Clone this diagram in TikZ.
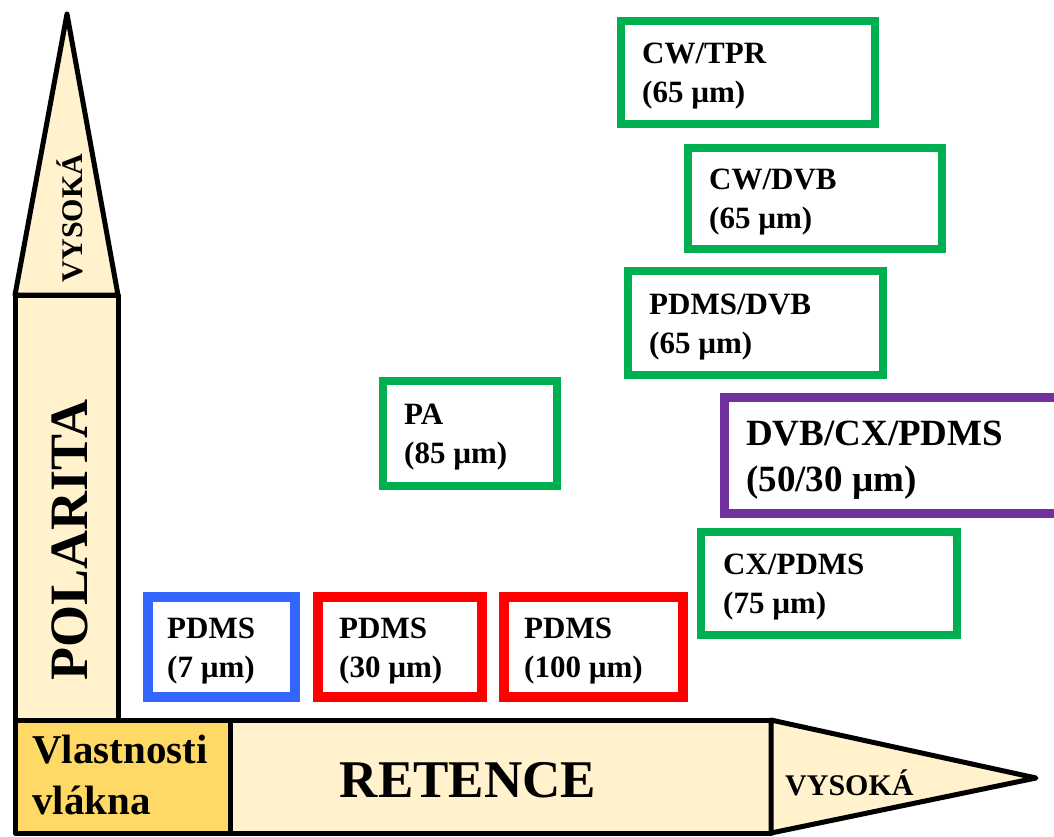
\documentclass[tikz,border=0pt]{standalone}
\usepackage{fontspec}
\setmainfont{Liberation Serif}
\definecolor{lightfill}{HTML}{FFF2CC}
\definecolor{goldfill}{HTML}{FFD966}
\definecolor{fgreen}{HTML}{00B050}
\definecolor{fred}{HTML}{FF0000}
\definecolor{fblue}{HTML}{3366FF}
\definecolor{fpurple}{HTML}{7030A0}
\begin{document}
\begin{tikzpicture}[x=1pt,y=-1pt,
  axis/.style={draw=black, line width=5pt, line join=round, fill=lightfill},
  frame/.style={draw, line width=8pt, fill=white, inner sep=0pt, outer sep=0pt},
  ftext/.style={anchor=west, inner sep=0pt, align=left,
    font=\bfseries\fontsize{31}{39}\selectfont},
  lbl/.style={inner sep=0pt, font=\bfseries},
  ]
\useasboundingbox (0,0) rectangle (1054,836);
\clip (0,0) rectangle (1054,836);
% vertical axis
\draw[axis] (15,295) rectangle (118,720);
\draw[axis] (15,295) -- (67,14) -- (118,295) -- cycle;
% horizontal axis
\draw[axis] (230,720) rectangle (771,833);
\draw[axis] (771,720) -- (1036,778) -- (771,833) -- cycle;
\draw[axis, fill=goldfill] (15,720) rectangle (230,833);
% axis labels
\node[lbl, rotate=90, anchor=base, font=\bfseries\fontsize{30}{36}\selectfont] (vys1) at (82,218) {VYSOKÁ};
\node[lbl, rotate=90, anchor=base, font=\bfseries\fontsize{54}{60}\selectfont] (pol) at (87,540) {POLARITA};
\node[lbl, anchor=base, font=\bfseries\fontsize{53}{60}\selectfont] (ret) at (468,797) {RETENCE};
\node[lbl, anchor=base west, font=\bfseries\fontsize{30}{36}\selectfont] (vys2) at (785,795) {VYSOKÁ};
\node[lbl, anchor=west, align=left, font=\bfseries\fontsize{41}{51}\selectfont] (vlast) at (32,775) {Vlastnosti\\vlákna};
% fibre boxes
\node[frame, draw=fgreen, minimum width=254pt, minimum height=103pt] (cwtpr) at (748,72.5) {};
\node[ftext] (cwtprT) at ([xshift=21pt,yshift=-4pt]cwtpr.west) {CW/TPR\\(65 µm)};
\node[frame, draw=fgreen, minimum width=254pt, minimum height=101pt] (cwdvb) at (815,198.5) {};
\node[ftext] (cwdvbT) at ([xshift=21pt,yshift=-4pt]cwdvb.west) {CW/DVB\\(65 µm)};
\node[frame, draw=fgreen, minimum width=255pt, minimum height=104pt] (pdmsdvb) at (755.5,323) {};
\node[ftext] (pdmsdvbT) at ([xshift=21pt,yshift=-4pt]pdmsdvb.west) {PDMS/DVB\\(65 µm)};
\node[frame, draw=fgreen, minimum width=174pt, minimum height=105pt] (pa) at (470,433.5) {};
\node[ftext] (paT) at ([xshift=21pt,yshift=-4pt]pa.west) {PA\\(85 µm)};
\node[frame, draw=fpurple, line width=9pt, minimum width=356pt, minimum height=116pt] (dvbcx) at (902,455) {};
\node[ftext, font=\bfseries\fontsize{37}{46}\selectfont] (dvbcxT) at ([xshift=22pt,yshift=-5pt]dvbcx.west) {DVB/CX/PDMS\\(50/30 µm)};
\node[frame, draw=fgreen, minimum width=256pt, minimum height=103pt] (cxpdms) at (829,583.5) {};
\node[ftext] (cxpdmsT) at ([xshift=22pt,yshift=-4pt]cxpdms.west) {CX/PDMS\\(75 µm)};
\node[frame, draw=fblue, line width=10pt, minimum width=147pt, minimum height=100pt] (pdms7) at (221.5,647) {};
\node[ftext] (pdms7T) at ([xshift=19pt,yshift=-4pt]pdms7.west) {PDMS\\(7 µm)};
\node[frame, draw=fred, line width=10pt, minimum width=164pt, minimum height=100pt] (pdms30) at (400,647) {};
\node[ftext] (pdms30T) at ([xshift=21pt,yshift=-4pt]pdms30.west) {PDMS\\(30 µm)};
\node[frame, draw=fred, line width=10pt, minimum width=179pt, minimum height=100pt] (pdms100) at (593.5,647) {};
\node[ftext] (pdms100T) at ([xshift=20pt,yshift=-4pt]pdms100.west) {PDMS\\(100 µm)};
\end{tikzpicture}
\end{document}
